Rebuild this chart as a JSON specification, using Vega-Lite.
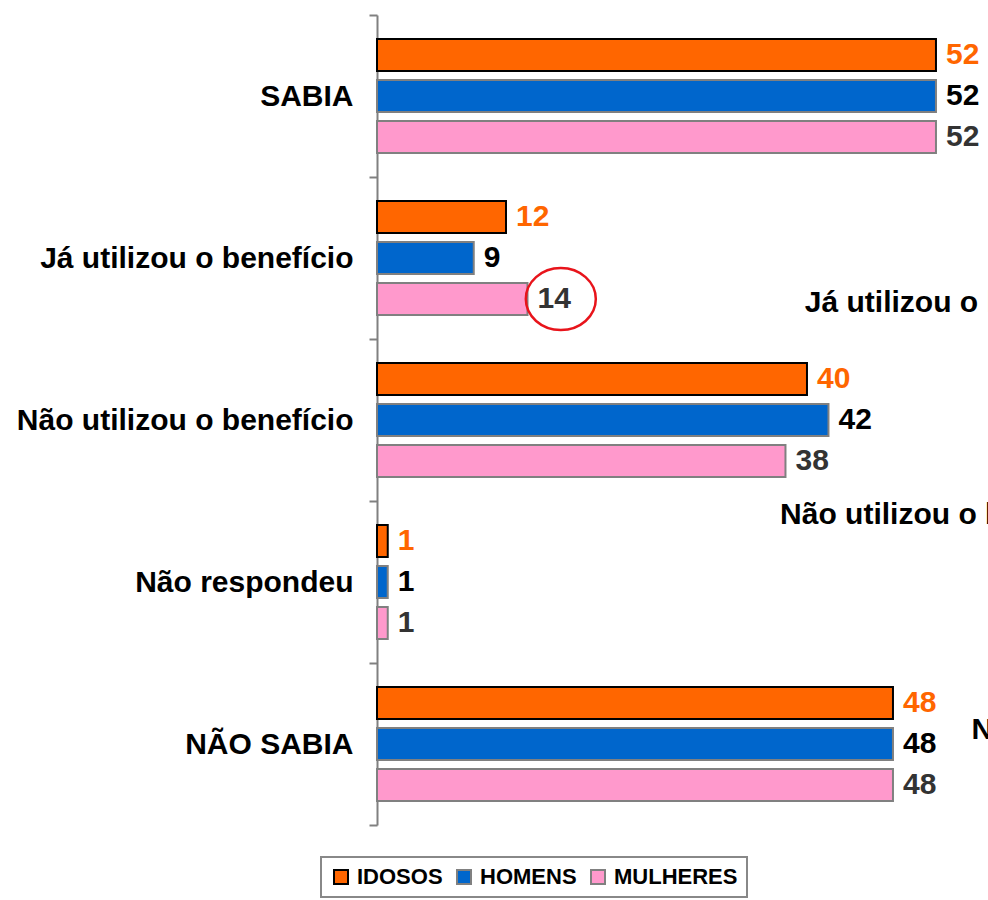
{
  "$schema": "https://vega.github.io/schema/vega-lite/v6.json",
  "width": 611,
  "height": 810,
  "autosize": {"type": "none"},
  "padding": {"left": 377, "top": 15, "right": 0, "bottom": 75},
  "background": "white",
  "config": {
    "view": {"stroke": null},
    "legend": {
      "orient": "none",
      "legendX": -56,
      "legendY": 842,
      "direction": "horizontal",
      "strokeColor": "#888888",
      "strokeWidth": 2,
      "padding": 9,
      "symbolType": "square",
      "symbolSize": 196,
      "symbolStrokeWidth": 2,
      "labelFont": "Liberation Sans",
      "labelFontWeight": "bold",
      "labelFontSize": 22,
      "labelColor": "black",
      "labelOffset": 5,
      "columnPadding": 10,
      "labelLimit": 0
    }
  },
  "datasets": {
    "main": [
      {"cat": "SABIA", "series": "IDOSOS", "v": 52},
      {"cat": "SABIA", "series": "HOMENS", "v": 52},
      {"cat": "SABIA", "series": "MULHERES", "v": 52},
      {"cat": "Já utilizou o benefício", "series": "IDOSOS", "v": 12},
      {"cat": "Já utilizou o benefício", "series": "HOMENS", "v": 9},
      {"cat": "Já utilizou o benefício", "series": "MULHERES", "v": 14},
      {"cat": "Não utilizou o benefício", "series": "IDOSOS", "v": 40},
      {"cat": "Não utilizou o benefício", "series": "HOMENS", "v": 42},
      {"cat": "Não utilizou o benefício", "series": "MULHERES", "v": 38},
      {"cat": "Não respondeu", "series": "IDOSOS", "v": 1},
      {"cat": "Não respondeu", "series": "HOMENS", "v": 1},
      {"cat": "Não respondeu", "series": "MULHERES", "v": 1},
      {"cat": "NÃO SABIA", "series": "IDOSOS", "v": 48},
      {"cat": "NÃO SABIA", "series": "HOMENS", "v": 48},
      {"cat": "NÃO SABIA", "series": "MULHERES", "v": 48}
    ]
  },
  "encoding": {
    "y": {
      "field": "cat",
      "type": "nominal",
      "sort": ["SABIA", "Já utilizou o benefício", "Não utilizou o benefício", "Não respondeu", "NÃO SABIA"],
      "scale": {"paddingInner": 0, "paddingOuter": 0},
      "axis": {
        "title": null,
        "grid": false,
        "domainColor": "#808080",
        "domainWidth": 2,
        "tickColor": "#808080",
        "tickWidth": 2,
        "tickSize": 8,
        "tickBand": "extent",
        "labelFont": "Liberation Sans",
        "labelFontWeight": "bold",
        "labelFontSize": 30,
        "labelColor": "black",
        "labelPadding": 16,
        "labelLimit": 0
      }
    },
    "yOffset": {
      "field": "series",
      "type": "nominal",
      "sort": ["IDOSOS", "HOMENS", "MULHERES"],
      "scale": {"paddingInner": 0.22, "paddingOuter": 0.585}
    },
    "x": {
      "field": "v",
      "type": "quantitative",
      "scale": {"domain": [0, 56.84]},
      "axis": null
    }
  },
  "layer": [
    {
      "data": {"name": "main"},
      "mark": {"type": "bar", "strokeWidth": 2},
      "encoding": {
        "fill": {
          "field": "series",
          "type": "nominal",
          "scale": {"domain": ["IDOSOS", "HOMENS", "MULHERES"], "range": ["#FF6600", "#0066CC", "#FF99CC"]},
          "legend": {"title": null}
        },
        "stroke": {
          "field": "series",
          "type": "nominal",
          "scale": {"domain": ["IDOSOS", "HOMENS", "MULHERES"], "range": ["#000000", "#808080", "#808080"]},
          "legend": {"title": null}
        }
      }
    },
    {
      "data": {"name": "main"},
      "mark": {"type": "text", "align": "left", "baseline": "middle", "dx": 10, "font": "Liberation Sans", "fontWeight": "bold", "fontSize": 30},
      "encoding": {
        "text": {"field": "v", "type": "quantitative"},
        "color": {
          "field": "series",
          "type": "nominal",
          "scale": {"domain": ["IDOSOS", "HOMENS", "MULHERES"], "range": ["#FF6600", "#000000", "#333333"]},
          "legend": null
        }
      }
    },
    {
      "data": {"values": [{"cat": "Já utilizou o benefício", "series": "MULHERES", "v": 17.1}]},
      "mark": {"type": "point", "shape": "M-1,0A1,0.886 0 1,1 1,0A1,0.886 0 1,1 -1,0Z", "size": 4900, "filled": false, "stroke": "#E8141B", "strokeWidth": 2.5, "opacity": 1}
    },
    {
      "data": {"values": [{"cat": "Já utilizou o benefício", "series": "MULHERES", "v": 39.8, "label": "Já utilizou o benefício"}]},
      "mark": {"type": "text", "align": "left", "baseline": "middle", "dy": 4, "font": "Liberation Sans", "fontWeight": "bold", "fontSize": 30, "color": "black"},
      "encoding": {"text": {"field": "label"}}
    },
    {
      "data": {"values": [{"cat": "Não respondeu", "series": "IDOSOS", "v": 37.5, "label": "Não utilizou o benefício"}]},
      "mark": {"type": "text", "align": "left", "baseline": "middle", "dy": -26, "font": "Liberation Sans", "fontWeight": "bold", "fontSize": 30, "color": "black"},
      "encoding": {"text": {"field": "label"}}
    },
    {
      "data": {"values": [{"cat": "NÃO SABIA", "series": "HOMENS", "v": 55.3, "label": "NÃO SABIA"}]},
      "mark": {"type": "text", "align": "left", "baseline": "middle", "dy": -14, "font": "Liberation Sans", "fontWeight": "bold", "fontSize": 30, "color": "black"},
      "encoding": {"text": {"field": "label"}}
    }
  ]
}
